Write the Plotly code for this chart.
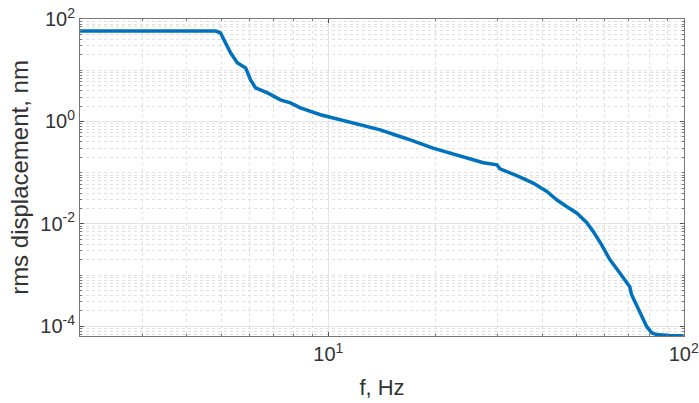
import numpy as np
import plotly.graph_objects as go

# Frequency (Hz) and rms displacement (nm)
freq = [2.0, 4.82, 4.97, 5.14, 5.31, 5.55, 5.85, 6.04, 6.24, 6.74, 7.33, 7.82,
        8.34, 9.5, 10.0, 14.0, 15.9, 17.0, 19.7, 22.0, 23.9, 27.3, 29.8, 30.4,
        33.9, 37.7, 41.2, 43.9, 46.8, 49.96, 53.3, 55.6, 58.7, 61.96, 66.1, 69.8,
        70.5, 71.3, 75.2, 78.6, 81.2, 83.8, 91.3, 100.0]
rms_nm = [58.3, 58.3, 53.4, 34.0, 21.7, 13.9, 11.1, 6.47, 4.52, 3.61, 2.64, 2.31,
          1.84, 1.35, 1.23, 0.686, 0.508, 0.438, 0.302, 0.244, 0.207, 0.156, 0.1426, 0.119,
          0.0871, 0.0627, 0.0430, 0.0296, 0.0219, 0.0163, 0.0107, 0.00714, 0.00394, 0.0020, 0.0011, 6.5e-4,
          5.9e-4, 4.17e-4, 1.83e-4, 1.0e-4, 7.5e-5, 6.9e-5, 6.6e-5, 6.5e-5]

x_ticks = [10, 100]
x_ticktext = ["10<sup>1</sup>", "10<sup>2</sup>"]
y_ticks = [1e-4, 1e-2, 1, 100]
y_ticktext = ["10<sup>-4</sup>", "10<sup>-2</sup>", "10<sup>0</sup>", "10<sup>2</sup>"]

x_minor = [m * 10 ** k for k in (0, 1) for m in range(2, 10)]
y_minor = [m * 10 ** k for k in range(-5, 2) for m in range(1, 10)
           if not (m == 1 and k in (-4, -2, 0))]

FONT = "Liberation Sans, Arial, sans-serif"

fig = go.Figure()
fig.add_trace(go.Scatter(x=freq, y=rms_nm, mode="lines",
                         line=dict(color="#0072BD", width=3.5), showlegend=False))

axis_common = dict(
    showline=True, linecolor="#777777", linewidth=1, mirror="ticks",
    ticks="inside", ticklen=4, tickcolor="#555555",
    showgrid=True, gridcolor="#e3e3e3", gridwidth=1,
    tickfont=dict(family=FONT, size=20, color="#333333"),
    zeroline=False, automargin=False,
)

fig.update_xaxes(type="log", range=[np.log10(2), 2.0008], tickmode="array",
                 tickvals=x_ticks, ticktext=x_ticktext,
                 title=dict(text="f, Hz", font=dict(family=FONT, size=22, color="#333333")),
                 minor=dict(tickmode="array", tickvals=x_minor, ticks="inside", ticklen=2,
                            tickcolor="#777777", showgrid=True, gridcolor="#e0e0e0",
                            griddash="dot", gridwidth=1),
                 **axis_common)
fig.update_yaxes(type="log", range=[-4.19, 2.0008], tickmode="array",
                 tickvals=y_ticks, ticktext=y_ticktext,
                 title=dict(text="rms displacement, nm", standoff=4,
                            font=dict(family=FONT, size=24, color="#333333")),
                 minor=dict(tickmode="array", tickvals=y_minor, ticks="inside", ticklen=2,
                            tickcolor="#777777", showgrid=True, gridcolor="#e0e0e0",
                            griddash="dot", gridwidth=1),
                 **axis_common)

fig.update_layout(width=699, height=403, plot_bgcolor="white", paper_bgcolor="white",
                  margin=dict(l=80, r=15, t=19, b=67))
fig.write_html("out.html", config={"displayModeBar": False},
               post_script="document.body.style.margin='0';document.body.style.overflow='hidden';")
